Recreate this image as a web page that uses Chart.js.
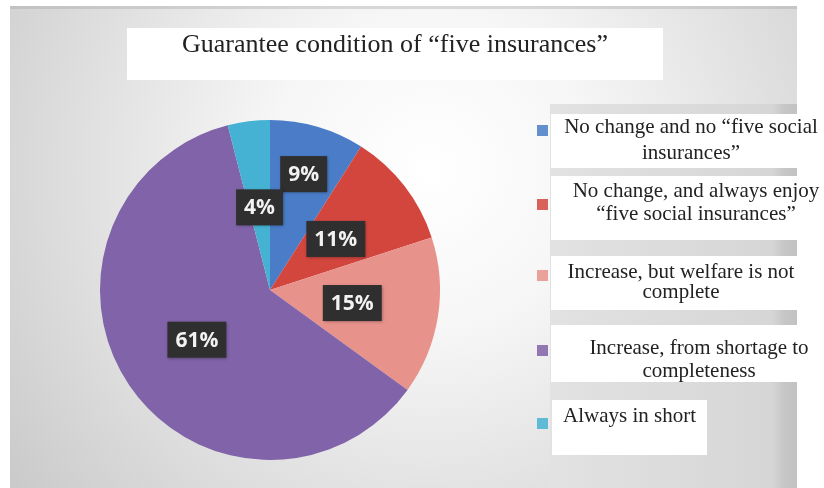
<!DOCTYPE html>
<html>
<head>
<meta charset="utf-8">
<script src="https://cdn.jsdelivr.net/npm/chart.js@4"></script>
<style>
  html, body { margin: 0; padding: 0; background: #ffffff; }
  #wrap { width: 824px; height: 488px; position: relative; }
</style>
</head>
<body>
<div id="wrap"><canvas id="c" width="824" height="488"></canvas></div>
<script>
// ---- data ----
const chartTitle = "Guarantee condition of \u201cfive insurances\u201d";
const categories = [
  ["No change and no \u201cfive social", "insurances\u201d"],
  ["No change, and always enjoy", "\u201cfive social insurances\u201d"],
  ["Increase, but welfare is not", "complete"],
  ["Increase, from shortage to", "completeness"],
  ["Always in short"]
];
const values = [9, 11, 15, 61, 4];
const sliceColors = ["#4a7cc8", "#d2463e", "#e8928c", "#8063a8", "#45b2d4"];

// ---- styling / layout (not data) ----
const labelRadius = [0.71, 0.49, 0.49, 0.52, 0.49];
const legendBoxes = [
  { x: 551, y: 114, w: 269, h: 54, cx: 691, base: [133, 159], my: 125 },
  { x: 551, y: 176, w: 269, h: 64, cx: 696, base: [197, 220], my: 199 },
  { x: 551, y: 256, w: 247, h: 54, cx: 681, base: [278, 298], my: 270 },
  { x: 551, y: 325, w: 269, h: 57, cx: 699, base: [354, 377], my: 345 },
  { x: 552, y: 400, w: 155, h: 55, lx: 563, base: [422], my: 418 }
];

const decorPlugin = {
  id: 'decor',
  beforeDraw(chart) {
    const ctx = chart.ctx;
    ctx.save();
    // panel
    const g = ctx.createRadialGradient(430, 170, 0, 430, 170, 540);
    g.addColorStop(0, '#ffffff');
    g.addColorStop(0.3, '#f6f6f6');
    g.addColorStop(0.7, '#dcdcdc');
    g.addColorStop(1, '#c8c8c8');
    ctx.fillStyle = g;
    ctx.fillRect(10, 6, 787, 482);
    ctx.fillStyle = 'rgba(160,160,160,0.35)';
    ctx.fillRect(10, 6, 787, 3);
    // legend background
    const lg = ctx.createLinearGradient(550, 0, 797, 0);
    lg.addColorStop(0, '#e2e2e2');
    lg.addColorStop(0.9, '#d6d6d6');
    lg.addColorStop(0.95, '#c6c6c6');
    lg.addColorStop(1, '#c2c2c2');
    ctx.fillStyle = lg;
    ctx.fillRect(550, 104, 247, 384);
    // title box
    ctx.fillStyle = '#ffffff';
    ctx.fillRect(127, 28, 536, 52);
    ctx.fillStyle = '#222222';
    ctx.font = '26px "Liberation Serif", "Times New Roman", serif';
    ctx.textAlign = 'center';
    ctx.textBaseline = 'alphabetic';
    ctx.fillText(chartTitle, 395, 52);
    // legend items
    ctx.font = '21px "Liberation Serif", "Times New Roman", serif';
    categories.forEach((lines, i) => {
      const b = legendBoxes[i];
      ctx.fillStyle = '#ffffff';
      ctx.fillRect(b.x, b.y, b.w, b.h);
      ctx.fillStyle = sliceColors[i];
      ctx.globalAlpha = 0.85;
      ctx.fillRect(537, b.my, 11, 11);
      ctx.globalAlpha = 1;
      ctx.fillStyle = '#222222';
      lines.forEach((ln, j) => {
        if (b.lx !== undefined) {
          ctx.textAlign = 'left';
          ctx.fillText(ln, b.lx, b.base[j]);
        } else {
          ctx.textAlign = 'center';
          ctx.fillText(ln, b.cx, b.base[j]);
        }
      });
    });
    ctx.restore();
  },
  afterDatasetsDraw(chart) {
    const ctx = chart.ctx;
    const meta = chart.getDatasetMeta(0);
    ctx.save();
    ctx.font = 'bold 21px "Open Sans", "DejaVu Sans", sans-serif';
    ctx.textAlign = 'center';
    ctx.textBaseline = 'middle';
    meta.data.forEach((arc, i) => {
      const p = arc.getProps(['x', 'y', 'startAngle', 'endAngle', 'outerRadius'], true);
      const mid = (p.startAngle + p.endAngle) / 2;
      const r = p.outerRadius * labelRadius[i];
      const px = p.x + Math.cos(mid) * r;
      const py = p.y + Math.sin(mid) * r;
      const txt = chart.data.datasets[0].data[i] + '%';
      const w = ctx.measureText(txt).width + 16;
      const h = 36;
      ctx.shadowColor = 'rgba(0,0,0,0.35)';
      ctx.shadowBlur = 3;
      ctx.shadowOffsetX = 1;
      ctx.shadowOffsetY = 1;
      ctx.fillStyle = '#2f2f2f';
      ctx.fillRect(px - w / 2, py - h / 2, w, h);
      ctx.shadowColor = 'transparent';
      ctx.fillStyle = '#f2f2f2';
      ctx.fillText(txt, px, py + 1);
    });
    ctx.restore();
  }
};

new Chart(document.getElementById('c'), {
  type: 'pie',
  data: {
    labels: categories,
    datasets: [{
      data: values,
      backgroundColor: sliceColors,
      borderWidth: 0
    }]
  },
  options: {
    responsive: false,
    animation: false,
    layout: { padding: { left: 100, right: 384, top: 120, bottom: 28 } },
    plugins: {
      legend: { display: false },
      title: { display: false },
      tooltip: { enabled: false }
    }
  },
  plugins: [decorPlugin]
});
</script>
</body>
</html>
